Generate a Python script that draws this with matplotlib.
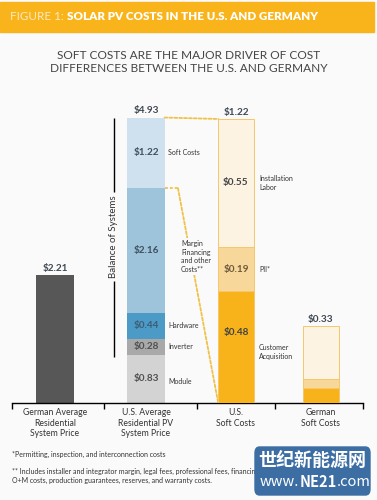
import matplotlib.pyplot as plt
from matplotlib.patches import Rectangle, FancyBboxPatch, ConnectionPatch
from matplotlib.text import Annotation
import numpy as np

plt.rcParams['font.family'] = ['Lato', 'DejaVu Sans']

# --- data -------------------------------------------------------------
categories = ['German Average\nResidential\nSystem Price',
              'U.S. Average\nResidential PV\nSystem Price',
              'U.S.\nSoft Costs',
              'German\nSoft Costs']
german_total = 2.21
us_parts = ['Module', 'Inverter', 'Hardware',
            'Margin\nFinancing\nand other\nCosts**', 'Soft Costs']
us_values = [0.83, 0.28, 0.44, 2.16, 1.22]
soft_parts = ['Customer\nAcquisition', 'PII*', 'Installation\nLabor']
us_soft_values = [0.48, 0.19, 0.55]
de_soft_values = [0.065, 0.04, 0.225]

# --- style ------------------------------------------------------------
bg = '#FAFAFA'
us_colors = ['#D3D3D3', '#A9A9A9', '#4C9BC6', '#9EC4DC', '#CFE0EE']
soft_colors = ['#F8B31A', '#F8D79A', '#FDF3E2']
soft_edge = '#F5C76A'
dash_col = '#F0C24A'
txt = '#3F4852'

fig = plt.figure(figsize=(3.77, 5), dpi=100, facecolor=bg)


def chain(prev, s, **kw):
    """Put a text right after another text, as a figure artist."""
    a = Annotation(s, xy=(1, 0.5), xycoords=prev, ha='left', va='center',
                   annotation_clip=False, **kw)
    fig.add_artist(a)
    return a


# axes: left scale for full prices, right scale (twin) for soft costs
ax = fig.add_axes([12 / 377, 97 / 500, 351 / 377, 303 / 500])
ax.patch.set_alpha(0)
ax.set_xlim(-0.485, 3.474)
ax.set_ylim(0, 5.233)
ax2 = ax.twinx()
ax2.set_ylim(0, 1.3015)
ax2.patch.set_alpha(0)

# header band
fig.patches.append(Rectangle((0, 1 - 32 / 500), 374 / 377, 30 / 500,
                             transform=fig.transFigure, color='#F9B41C', zorder=0))
t1 = fig.text(10 / 377, 1 - 17 / 500, 'FIGURE 1: ', color='#FDEBC0',
              fontsize=8.4, va='center', ha='left')
chain(t1, 'SOLAR PV COSTS IN THE U.S. AND GERMANY', color='white',
      fontsize=8.4, fontweight='heavy')

fig.text(0.5, 1 - 62 / 500,
         'SOFT COSTS ARE THE MAJOR DRIVER OF COST\nDIFFERENCES BETWEEN THE U.S. AND GERMANY',
         ha='center', va='center', fontsize=8.6, color='#454545',
         linespacing=1.25)

xpos = [0, 1.026, 2.041, 3.0]
w = 0.42
ws = 0.40

# German total
ax.bar(xpos[0], german_total, w, color='#575757')
ax.annotate(f'${german_total:.2f}', (xpos[0], german_total), xytext=(0, 1.5),
            textcoords='offset points', ha='center', va='bottom',
            fontsize=7.2, fontweight='bold', color=txt)

# U.S. total stacked
us_bottoms = np.concatenate([[0], np.cumsum(us_values)[:-1]])
ax.bar(xpos[1], us_values, w, bottom=us_bottoms, color=us_colors)
us_total = sum(us_values)
ax.annotate(f'${us_total:.2f}', (xpos[1], us_total), xytext=(0, 1.5),
            textcoords='offset points', ha='center', va='bottom',
            fontsize=7.2, fontweight='bold', color=txt)
us_lbl_col = ['#505050', '#505050', '#3C5E78', '#3F4F5E', '#3F4F5E']
side_x = [1.274, 1.274, 1.274, 1.42, 1.274]
side_dy = [-0.05, 0.0, 0.0, -0.1, 0.0]
for v, b, lab, c, sx, dy in zip(us_values, us_bottoms, us_parts, us_lbl_col, side_x, side_dy):
    ax.text(xpos[1], b + v / 2, f'${v:.2f}', ha='center', va='center',
            fontsize=7.2, fontweight='bold', color=c)
    ax.text(sx, b + v / 2 + dy, lab, ha='left', va='center', fontsize=5.0,
            color='#333333', linespacing=1.3, zorder=8,
            bbox=dict(facecolor=bg, edgecolor='none', pad=1.0))

# Balance of systems bracket
bos_lo, bos_hi = us_values[0], us_total
bos_mid = (bos_lo + bos_hi) / 2
ax.vlines(0.665, bos_lo - 0.03, bos_mid - 0.77, color='black', lw=1)
ax.vlines(0.665, bos_mid + 0.77, bos_hi, color='black', lw=1)
ax.text(0.665, bos_mid, 'Balance of Systems', rotation=90, ha='center', va='center',
        fontsize=7.0, color='#333333')

# soft cost bars on the right scale
for xp, vals in [(xpos[2], us_soft_values), (xpos[3], de_soft_values)]:
    bots = np.concatenate([[0], np.cumsum(vals)[:-1]])
    ax2.bar(xp, vals, ws, bottom=bots, color=soft_colors, edgecolor=soft_edge, lw=0.7)
    ax2.annotate(f'${sum(vals):.2f}', (xp, sum(vals)), xytext=(0, 1.5),
                 textcoords='offset points', ha='center', va='bottom',
                 fontsize=7.2, fontweight='bold', color=txt)

soft_bots = np.concatenate([[0], np.cumsum(us_soft_values)[:-1]])
lbl_frac = [0.63, 0.5, 0.5]
soft_lbl_col = ['#444444', '#6B5A3A', '#444444']
soft_side_dy = [-0.02, 0.0, 0.0]
for v, b, lab, f, c, dy in zip(us_soft_values, soft_bots, soft_parts, lbl_frac,
                               soft_lbl_col, soft_side_dy):
    ax2.text(xpos[2], b + v * f, f'${v:.2f}', ha='center', va='center',
             fontsize=7.2, fontweight='bold', color=c)
    ax2.text(2.30, b + v / 2 + dy, lab, ha='left', va='center', fontsize=5.0,
             color='#333333', linespacing=1.3)

# dotted connectors from U.S. soft costs segment to the U.S. soft cost bar
# (drawn below the axes so the label boxes can hide them)
ls = (0, (1.6, 1.1))
us_right = xpos[1] + w / 2
soft_left = xpos[2] - ws / 2
soft_base = us_bottoms[-1]
fig.add_artist(ConnectionPatch((us_right, us_total), (soft_left, sum(us_soft_values)),
                               coordsA=ax.transData, coordsB=ax2.transData,
                               color=dash_col, lw=1.3, linestyle=ls, zorder=-1))
ax.plot([us_right, 1.387], [soft_base, soft_base], color=dash_col, lw=1.3,
        linestyle=ls, zorder=5)
fig.add_artist(ConnectionPatch((1.387, soft_base), (soft_left, 0),
                               coordsA=ax.transData, coordsB=ax2.transData,
                               color=dash_col, lw=1.3, linestyle=ls, zorder=-1))

# axis styling
for a in (ax, ax2):
    for s in ['top', 'right', 'left']:
        a.spines[s].set_visible(False)
    a.set_yticks([])
ax2.spines['bottom'].set_visible(False)
ax.spines['bottom'].set_linewidth(1)
ax.set_xticks([-0.48, 0.553, 1.601, 2.481, 3.47])
ax.set_xticklabels([])
ax.tick_params(axis='x', direction='out', length=4, width=1, color='black')

for xp, cat in zip(xpos, categories):
    ax.text(xp, -0.018, cat, transform=ax.get_xaxis_transform(), ha='center',
            va='top', fontsize=6.2, color='#333333', linespacing=1.2)

# footnotes
fig.text(12 / 377, 1 - 454 / 500, '*Permitting, inspection, and interconnection costs',
         fontsize=5.0, color='#333333', va='center')
fig.text(12 / 377, 1 - 476 / 500,
         '** Includes installer and integrator margin, legal fees, professional fees, financing transactional costs,\n'
         'O+M costs, production guarantees, reserves, and warranty costs.',
         fontsize=5.0, color='#333333', va='center', linespacing=1.4)

# watermark
fig.patches.append(FancyBboxPatch((255 / 377, 1 - 495 / 500), 115 / 377, 48 / 500,
                                  boxstyle='round,pad=0,rounding_size=0.012',
                                  transform=fig.transFigure, color='#3C6EA4', zorder=6))
fig.text(312 / 377, 1 - 460 / 500, '世纪新能源网', fontsize=13, fontweight='bold',
         color='white', ha='center', va='center', zorder=7,
         family=['Noto Sans CJK SC', 'DejaVu Sans'])
w1 = fig.text(260 / 377, 1 - 482 / 500, 'www.', fontsize=10.5, color='white',
              ha='left', va='center', zorder=7, family=['Noto Sans CJK SC'],
              fontweight='light')
w2 = chain(w1, 'NE21', fontsize=10.5, fontweight='bold', color='white', zorder=7,
           family=['Noto Sans CJK SC'])
chain(w2, '.com', fontsize=10.5, color='white', zorder=7,
      family=['Noto Sans CJK SC'], fontweight='light')

fig.savefig('out.png', dpi=100, facecolor=fig.get_facecolor())
